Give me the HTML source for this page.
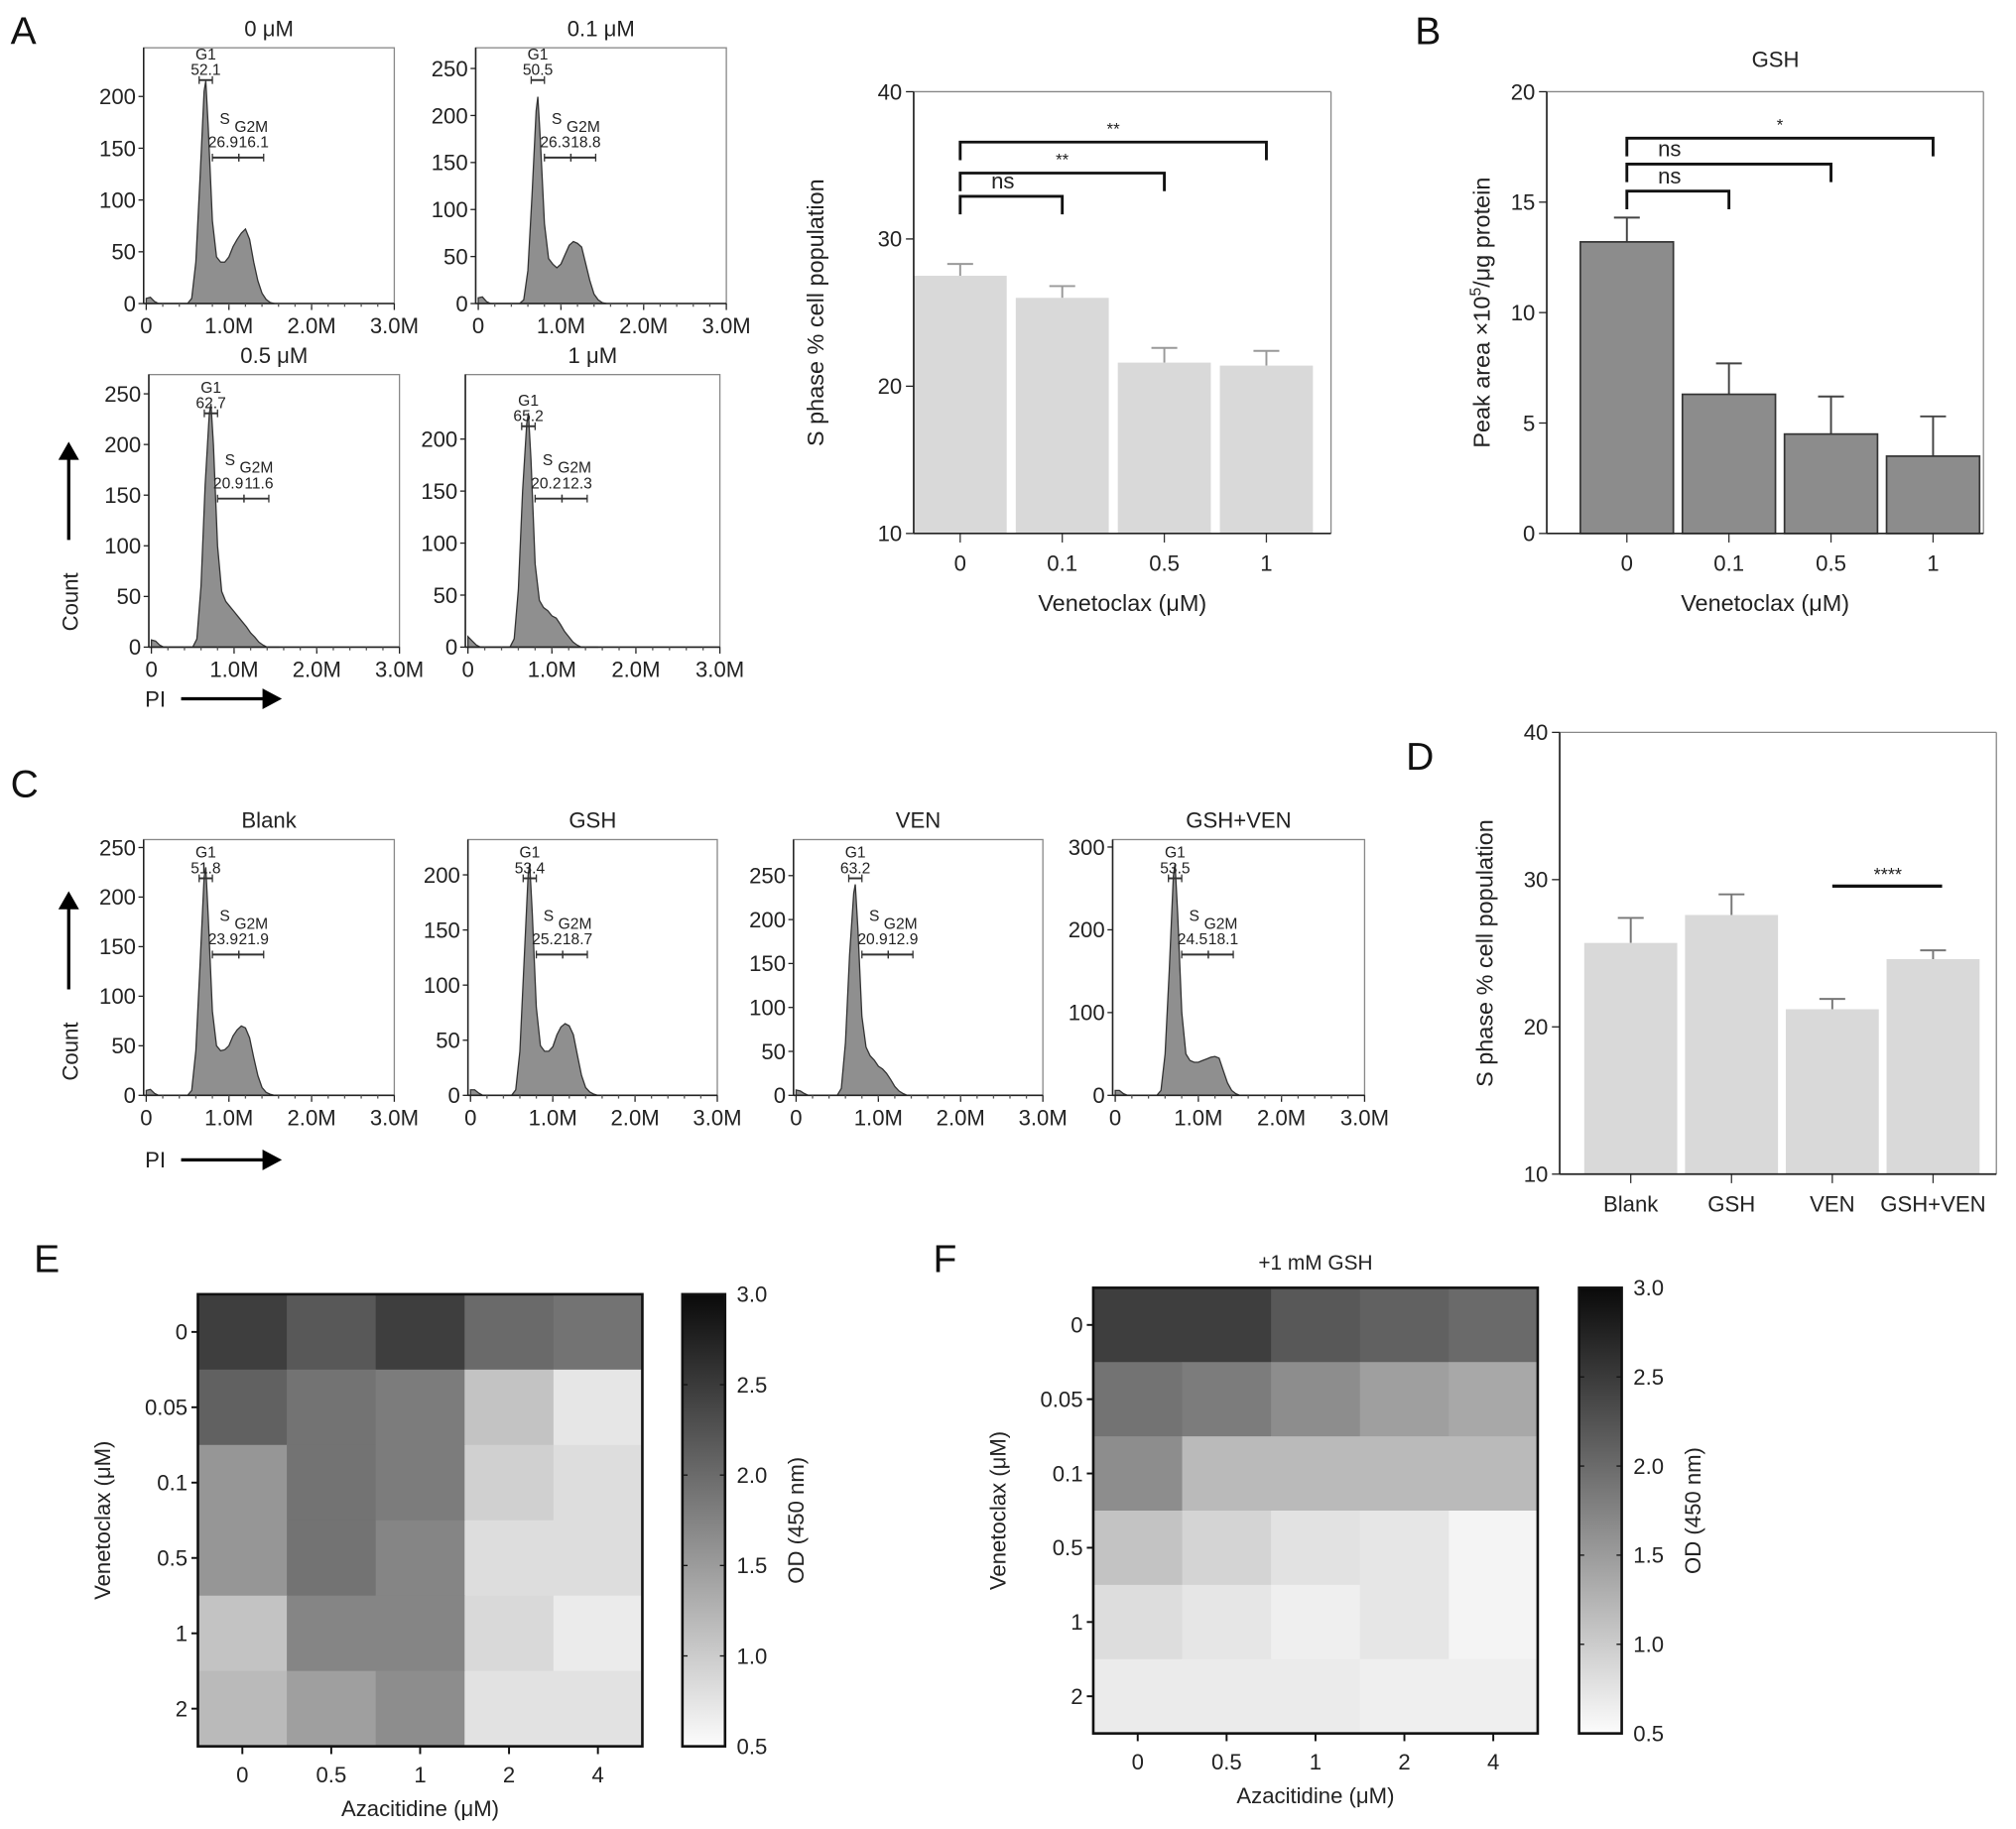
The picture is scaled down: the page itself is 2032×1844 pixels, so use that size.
<!DOCTYPE html>
<html><head><meta charset="utf-8"><style>
html,body{margin:0;padding:0;background:#fff;}
svg{display:block;font-family:"Liberation Sans",Arial,sans-serif;}
</style></head><body>
<svg id="fig" width="2032" height="1844" viewBox="0 0 1560 1416" xmlns="http://www.w3.org/2000/svg">
<rect x="0" y="0" width="1560" height="1416" fill="#fff"/>
<g font-size="30" fill="#111">
<text x="8" y="34">A</text>
<text x="1095" y="34">B</text>
<text x="8" y="617">C</text>
<text x="1088" y="596">D</text>
<text x="26" y="985">E</text>
<text x="722" y="985">F</text>
</g>
<g id="layer"></g>
</svg>
<script>
// ---------- data ----------
const binX = [0,0.05,0.1,0.15,0.5,0.55,0.6,0.65,0.7,0.72,0.75,0.8,0.85,0.9,0.95,1.0,1.05,1.1,1.15,1.2,1.25,1.3,1.35,1.4,1.45,1.5,1.55];
const histA0   = [5,6,2,0,0,5,40,120,205,215,170,80,45,40,40,45,55,62,68,72,62,40,22,10,4,1,0];
const histA01  = [6,7,2,0,0,4,35,115,205,220,175,85,48,42,38,42,52,62,66,64,60,42,24,10,4,1,0];
const histA05  = [7,6,2,0,0,8,60,160,230,240,200,100,55,45,40,35,30,25,20,14,10,5,2,0,0,0,0];
const histA1   = [10,6,2,0,0,8,55,150,215,225,180,80,45,38,35,30,28,22,15,10,5,2,0,0,0,0,0];
const histBlank= [5,6,2,0,0,5,45,130,220,230,180,85,50,45,46,50,60,66,70,68,58,38,20,8,3,1,0];
const histGSH  = [5,5,2,0,0,5,40,120,200,210,165,80,45,40,40,44,55,62,65,63,55,36,18,7,3,1,0];
const histVEN  = [6,5,2,0,0,8,60,160,230,240,190,90,55,45,40,33,30,25,18,10,5,2,0,0,0,0,0];
const histGV   = [6,6,2,0,0,6,50,150,265,280,220,100,50,42,40,40,42,44,46,47,45,30,15,6,2,0,0];

const barCats = ["0","0.1","0.5","1"];
const sPhaseVals = [27.5,26.0,21.6,21.4];
const sPhaseErr  = [28.3,26.8,22.6,22.4];
const gshVals = [13.2,6.3,4.5,3.5];
const gshErr  = [14.3,7.7,6.2,5.3];
const dCats = ["Blank","GSH","VEN","GSH+VEN"];
const dVals = [25.7,27.6,21.2,24.6];
const dErr  = [27.4,29.0,21.9,25.2];

const azaCats = ["0","0.5","1","2","4"];
const venCats = ["0","0.05","0.1","0.5","1","2"];
const heatE = [[2.6,2.3,2.6,2.1,2.0],[2.2,2.0,1.9,1.1,0.7],[1.6,2.0,1.9,0.95,0.8],[1.6,2.0,1.8,0.8,0.8],[1.1,1.8,1.8,0.85,0.65],[1.2,1.5,1.7,0.75,0.75]];
const heatF = [[2.6,2.6,2.3,2.2,2.1],[2.0,1.9,1.7,1.5,1.4],[1.7,1.2,1.2,1.2,1.2],[1.1,0.9,0.75,0.7,0.55],[0.8,0.7,0.6,0.7,0.55],[0.65,0.65,0.65,0.6,0.6]];
const cbTicks = [0.5,1.0,1.5,2.0,2.5,3.0];

// ---------- helpers ----------
const NS="http://www.w3.org/2000/svg";
const layer=document.getElementById('layer');
function mk(tag,attrs,parent){const e=document.createElementNS(NS,tag);for(const k in attrs)e.setAttribute(k,attrs[k]);(parent||layer).appendChild(e);return e;}
function txt(x,y,s,size,anchor,parent,rot){const e=mk('text',{x:x,y:y,'font-size':size,'text-anchor':anchor||'middle',fill:'#222'},parent);if(rot)e.setAttribute('transform','rotate(-90 '+x+' '+y+')');e.textContent=s;return e;}

// ---------- histograms ----------
function hist(c){
  const g=mk('g',{});
  
  
  const {x0,x1,y0,y1,top}=c;
  const xs=v=>x0+2+v/3.0*(x1-x0-2);
  const ys=v=>y1-v/top*(y1-y0);
  let d='M'+xs(binX[0])+','+ys(0);
  binX.forEach((b,i)=>{d+=' L'+xs(b).toFixed(1)+','+ys(c.data[i]).toFixed(1);});
  d+=' L'+xs(binX[binX.length-1])+','+ys(0)+' Z';
  const p=mk('path',{d:d,fill:'#8f8f8f',stroke:'#333','stroke-width':1},g);
  
  
  mk('rect',{x:x0,y:y0,width:x1-x0,height:y1-y0,fill:'none',stroke:'#888','stroke-width':1},g);
  mk('line',{x1:x0,y1:y0,x2:x0,y2:y1,stroke:'#222','stroke-width':1.2},g);
  mk('line',{x1:x0,y1:y1,x2:x1,y2:y1,stroke:'#222','stroke-width':1.2},g);
  c.yt.forEach(v=>{mk('line',{x1:x0-4,y1:ys(v),x2:x0,y2:ys(v),stroke:'#222'},g);txt(x0-6,ys(v)+6,String(v),17,'end',g);});
  [0,1,2,3].forEach(v=>{const X=xs(v);mk('line',{x1:X,y1:y1,x2:X,y2:y1+5,stroke:'#222'},g);txt(X,y1+23,v===0?'0':v+'.0M',17,'middle',g);});
  for(let v=0.2;v<3;v+=0.2){mk('line',{x1:xs(v),y1:y1,x2:xs(v),y2:y1+2.5,stroke:'#555'},g);}
  txt((x0+x1)/2,y0-9,c.title,17,'middle',g);
  const gy=c.g1y, sy=c.sy;
  const br=(a,b,y)=>{mk('line',{x1:xs(a),y1:y,x2:xs(b),y2:y,stroke:'#333','stroke-width':1.5},g);mk('line',{x1:xs(a),y1:y-3,x2:xs(a),y2:y+3,stroke:'#333'},g);mk('line',{x1:xs(b),y1:y-3,x2:xs(b),y2:y+3,stroke:'#333'},g);};
  br(0.64,0.8,gy); txt(xs(0.72),gy-16,'G1',12,'middle',g); txt(xs(0.72),gy-4,c.lab[0],12,'middle',g);
  br(0.8,1.12,sy); br(1.12,1.42,sy);
  txt(xs(0.95),sy-26,'S',12,'middle',g); txt(xs(0.93),sy-8,c.lab[1],12,'middle',g);
  txt(xs(1.27),sy-20,'G2M',12,'middle',g); txt(xs(1.3),sy-8,c.lab[2],12,'middle',g);
}
hist({id:'0uM',x0:111,x1:305,y0:37,y1:235,top:247,yt:[0,50,100,150,200],title:'0 μM',data:histA0,g1y:62,sy:122,lab:['52.1','26.9','16.1']});
hist({id:'0-1uM',x0:368,x1:562,y0:37,y1:235,top:272,yt:[0,50,100,150,200,250],title:'0.1 μM',data:histA01,g1y:62,sy:122,lab:['50.5','26.3','18.8']});
hist({id:'0-5uM',x0:115,x1:309,y0:290,y1:501,top:269,yt:[0,50,100,150,200,250],title:'0.5 μM',data:histA05,g1y:320,sy:386,lab:['62.7','20.9','11.6']});
hist({id:'1uM',x0:360,x1:557,y0:290,y1:501,top:262,yt:[0,50,100,150,200],title:'1 μM',data:histA1,g1y:330,sy:386,lab:['65.2','20.2','12.3']});
hist({id:'blank',x0:111,x1:305,y0:650,y1:848,top:258,yt:[0,50,100,150,200,250],title:'Blank',data:histBlank,g1y:680,sy:739,lab:['51.8','23.9','21.9']});
hist({id:'gsh',x0:362,x1:555,y0:650,y1:848,top:232,yt:[0,50,100,150,200],title:'GSH',data:histGSH,g1y:680,sy:739,lab:['53.4','25.2','18.7']});
hist({id:'ven',x0:614,x1:807,y0:650,y1:848,top:291,yt:[0,50,100,150,200,250],title:'VEN',data:histVEN,g1y:680,sy:739,lab:['63.2','20.9','12.9']});
hist({id:'gsh-ven',x0:861,x1:1056,y0:650,y1:848,top:309,yt:[0,100,200,300],title:'GSH+VEN',data:histGV,g1y:680,sy:739,lab:['53.5','24.5','18.1']});

function arrows(ay,py,name){
  const g=mk('g',{});
  
  
  mk('line',{x1:53,y1:ay+76,x2:53,y2:ay+12,stroke:'#000','stroke-width':2.5},g);
  mk('polygon',{points:(45)+','+(ay+14)+' 61,'+(ay+14)+' 53,'+ay,fill:'#000'},g);
  txt(60,ay+124,'Count',17,'middle',g,true);
  txt(112,py+6,'PI',17,'start',g);
  mk('line',{x1:140,y1:py,x2:205,y2:py,stroke:'#000','stroke-width':2.5},g);
  mk('polygon',{points:'203,'+(py-8)+' 203,'+(py+8)+' 218,'+py,fill:'#000'},g);
}
arrows(342,541,'axis-arrows-a');
arrows(690,898,'axis-arrows-c');

// ---------- bar charts ----------
function bars(c){
  const g=mk('g',{});
  
  
  const ys=v=>c.yb-(v-c.vmin)/(c.vmax-c.vmin)*(c.yb-c.yt);
  const xs=i=>c.x0+c.off+i*c.step;
  mk('line',{x1:c.x0,y1:c.yt,x2:c.x1,y2:c.yt,stroke:'#888'},g);
  mk('line',{x1:c.x1,y1:c.yt,x2:c.x1,y2:c.yb,stroke:'#888'},g);
  c.vals.forEach((v,i)=>{
    const X=xs(i);
    mk('line',{x1:X,y1:ys(v),x2:X,y2:ys(c.err[i]),stroke:c.ec,'stroke-width':1.5},g);
    mk('line',{x1:X-10,y1:ys(c.err[i]),x2:X+10,y2:ys(c.err[i]),stroke:c.ec,'stroke-width':1.5},g);
    const r=mk('rect',{x:X-36,y:ys(v),width:72,height:c.yb-ys(v),fill:c.fill,stroke:c.stroke,'stroke-width':c.stroke==='none'?0:1.3},g);
    
    
    mk('line',{x1:X,y1:c.yb,x2:X,y2:c.yb+7,stroke:'#333'},g);
    txt(X,c.yb+29,c.cats[i],17,'middle',g);
  });
  mk('line',{x1:c.x0,y1:c.yt,x2:c.x0,y2:c.yb,stroke:'#222','stroke-width':1.3},g);
  mk('line',{x1:c.x0,y1:c.yb,x2:c.x1,y2:c.yb,stroke:'#222','stroke-width':1.3},g);
  c.ticks.forEach(v=>{mk('line',{x1:c.x0-6,y1:ys(v),x2:c.x0,y2:ys(v),stroke:'#222'},g);txt(c.x0-9,ys(v)+6,String(v),17,'end',g);});
  txt((c.x0+c.x1)/2,c.yb+60,c.xlab,18,'middle',g);
  const yl=txt(c.ylx,(c.yt+c.yb)/2,'',18,'middle',g,true);
  yl.innerHTML=c.ylab;
  (c.brackets||[]).forEach(b=>{
    const a=xs(b[0]),e=xs(b[1]);
    mk('path',{d:'M'+a+','+(b[2]+14)+' V'+b[2]+' H'+e+' V'+(b[2]+14),fill:'none',stroke:'#111','stroke-width':2.2},g);
    txt(a+(b[3]==='ns'?33:(e-a)/2),b[2]-6,b[3],b[3]==='ns'?17:13,'middle',g);
  });
  return {g,xs,ys};
}
bars({id:'s-phase',x0:707,x1:1030,yt:71,yb:413,vmin:10,vmax:40,off:36,step:79,cats:barCats,vals:sPhaseVals,err:sPhaseErr,fill:'#d9d9d9',stroke:'none',ec:'#999',ticks:[10,20,30,40],xlab:'Venetoclax (μM)',ylx:637,ylab:'S phase % cell population',brackets:[[0,1,152,'ns'],[0,2,134,'**'],[0,3,110,'**']]});
bars({id:'gsh',x0:1197,x1:1535,yt:71,yb:413,vmin:0,vmax:20,off:62,step:79,cats:barCats,vals:gshVals,err:gshErr,fill:'#8c8c8c',stroke:'#333',ec:'#444',ticks:[0,5,10,15,20],xlab:'Venetoclax (μM)',ylx:1153,ylab:'Peak area ×10<tspan dy="-7" font-size="12">5</tspan><tspan dy="7">/μg protein</tspan>',brackets:[[0,1,148,'ns'],[0,2,127,'ns'],[0,3,107,'*']]});
txt(1374,52,'GSH',17,'middle');
bars({id:'s-phase-gsh',x0:1207,x1:1545,yt:567,yb:909,vmin:10,vmax:40,off:55,step:78,cats:dCats,vals:dVals,err:dErr,fill:'#d9d9d9',stroke:'none',ec:'#777',ticks:[10,20,30,40],xlab:'',ylx:1155,ylab:'S phase % cell population'});
mk('line',{x1:1418,y1:686,x2:1503,y2:686,stroke:'#111','stroke-width':2.5});
txt(1461,682,'****',14,'middle');

// ---------- heatmaps ----------
function gray(v){const t=Math.max(0,Math.min(1,(v-0.5)/2.5));const c=Math.round(248-t*222);return 'rgb('+c+','+c+','+c+')';}
function heat(c){
  const g=mk('g',{});
  
  
  const cw=(c.x1-c.x0)/azaCats.length, ch=(c.y1-c.y0)/venCats.length;
  c.data.forEach((row,r)=>row.forEach((v,k)=>{
    const cell=mk('rect',{x:c.x0+k*cw,y:c.y0+r*ch,width:cw+0.5,height:ch+0.5,fill:gray(v)},g);
    
    
  }));
  mk('rect',{x:c.x0,y:c.y0,width:c.x1-c.x0,height:c.y1-c.y0,fill:'none',stroke:'#111','stroke-width':2},g);
  venCats.forEach((s,r)=>{const Y=c.y0+(r+0.5)*ch;mk('line',{x1:c.x0-5,y1:Y,x2:c.x0,y2:Y,stroke:'#111','stroke-width':1.5},g);txt(c.x0-8,Y+6,s,17,'end',g);});
  azaCats.forEach((s,k)=>{const X=c.x0+(k+0.5)*cw;mk('line',{x1:X,y1:c.y1,x2:X,y2:c.y1+6,stroke:'#111','stroke-width':1.5},g);txt(X,c.y1+28,s,17,'middle',g);});
  txt((c.x0+c.x1)/2,c.y1+54,'Azacitidine (μM)',17,'middle',g);
  txt(c.x0-68,(c.y0+c.y1)/2,'Venetoclax (μM)',17,'middle',g,true);
  const gid='grad'+c.id;
  const defs=mk('defs',{},g);const lg=mk('linearGradient',{id:gid,x1:0,y1:1,x2:0,y2:0},defs);
  mk('stop',{offset:'0','stop-color':'rgb(252,252,252)'},lg);mk('stop',{offset:'1','stop-color':'rgb(10,10,10)'},lg);
  const cb=mk('rect',{x:c.cbx,y:c.y0,width:33,height:c.y1-c.y0,fill:'url(#'+gid+')',stroke:'#111','stroke-width':2},g);
  
  
  cbTicks.forEach(v=>{const Y=c.y1-(v-0.5)/2.5*(c.y1-c.y0);
    mk('line',{x1:c.cbx,y1:Y,x2:c.cbx+4,y2:Y,stroke:'#111'},g);mk('line',{x1:c.cbx+29,y1:Y,x2:c.cbx+33,y2:Y,stroke:'#111'},g);
    txt(c.cbx+42,Y+6,v.toFixed(1),17,'start',g);});
  txt(c.cbx+94,(c.y0+c.y1)/2,'OD (450 nm)',17,'middle',g,true);
}
heat({id:'e',x0:153,x1:497,y0:1002,y1:1352,data:heatE,cbx:528});
heat({id:'f',x0:846,x1:1190,y0:997,y1:1342,data:heatF,cbx:1222});
txt(1018,983,'+1 mM GSH',16,'middle');
</script>
</body></html>
